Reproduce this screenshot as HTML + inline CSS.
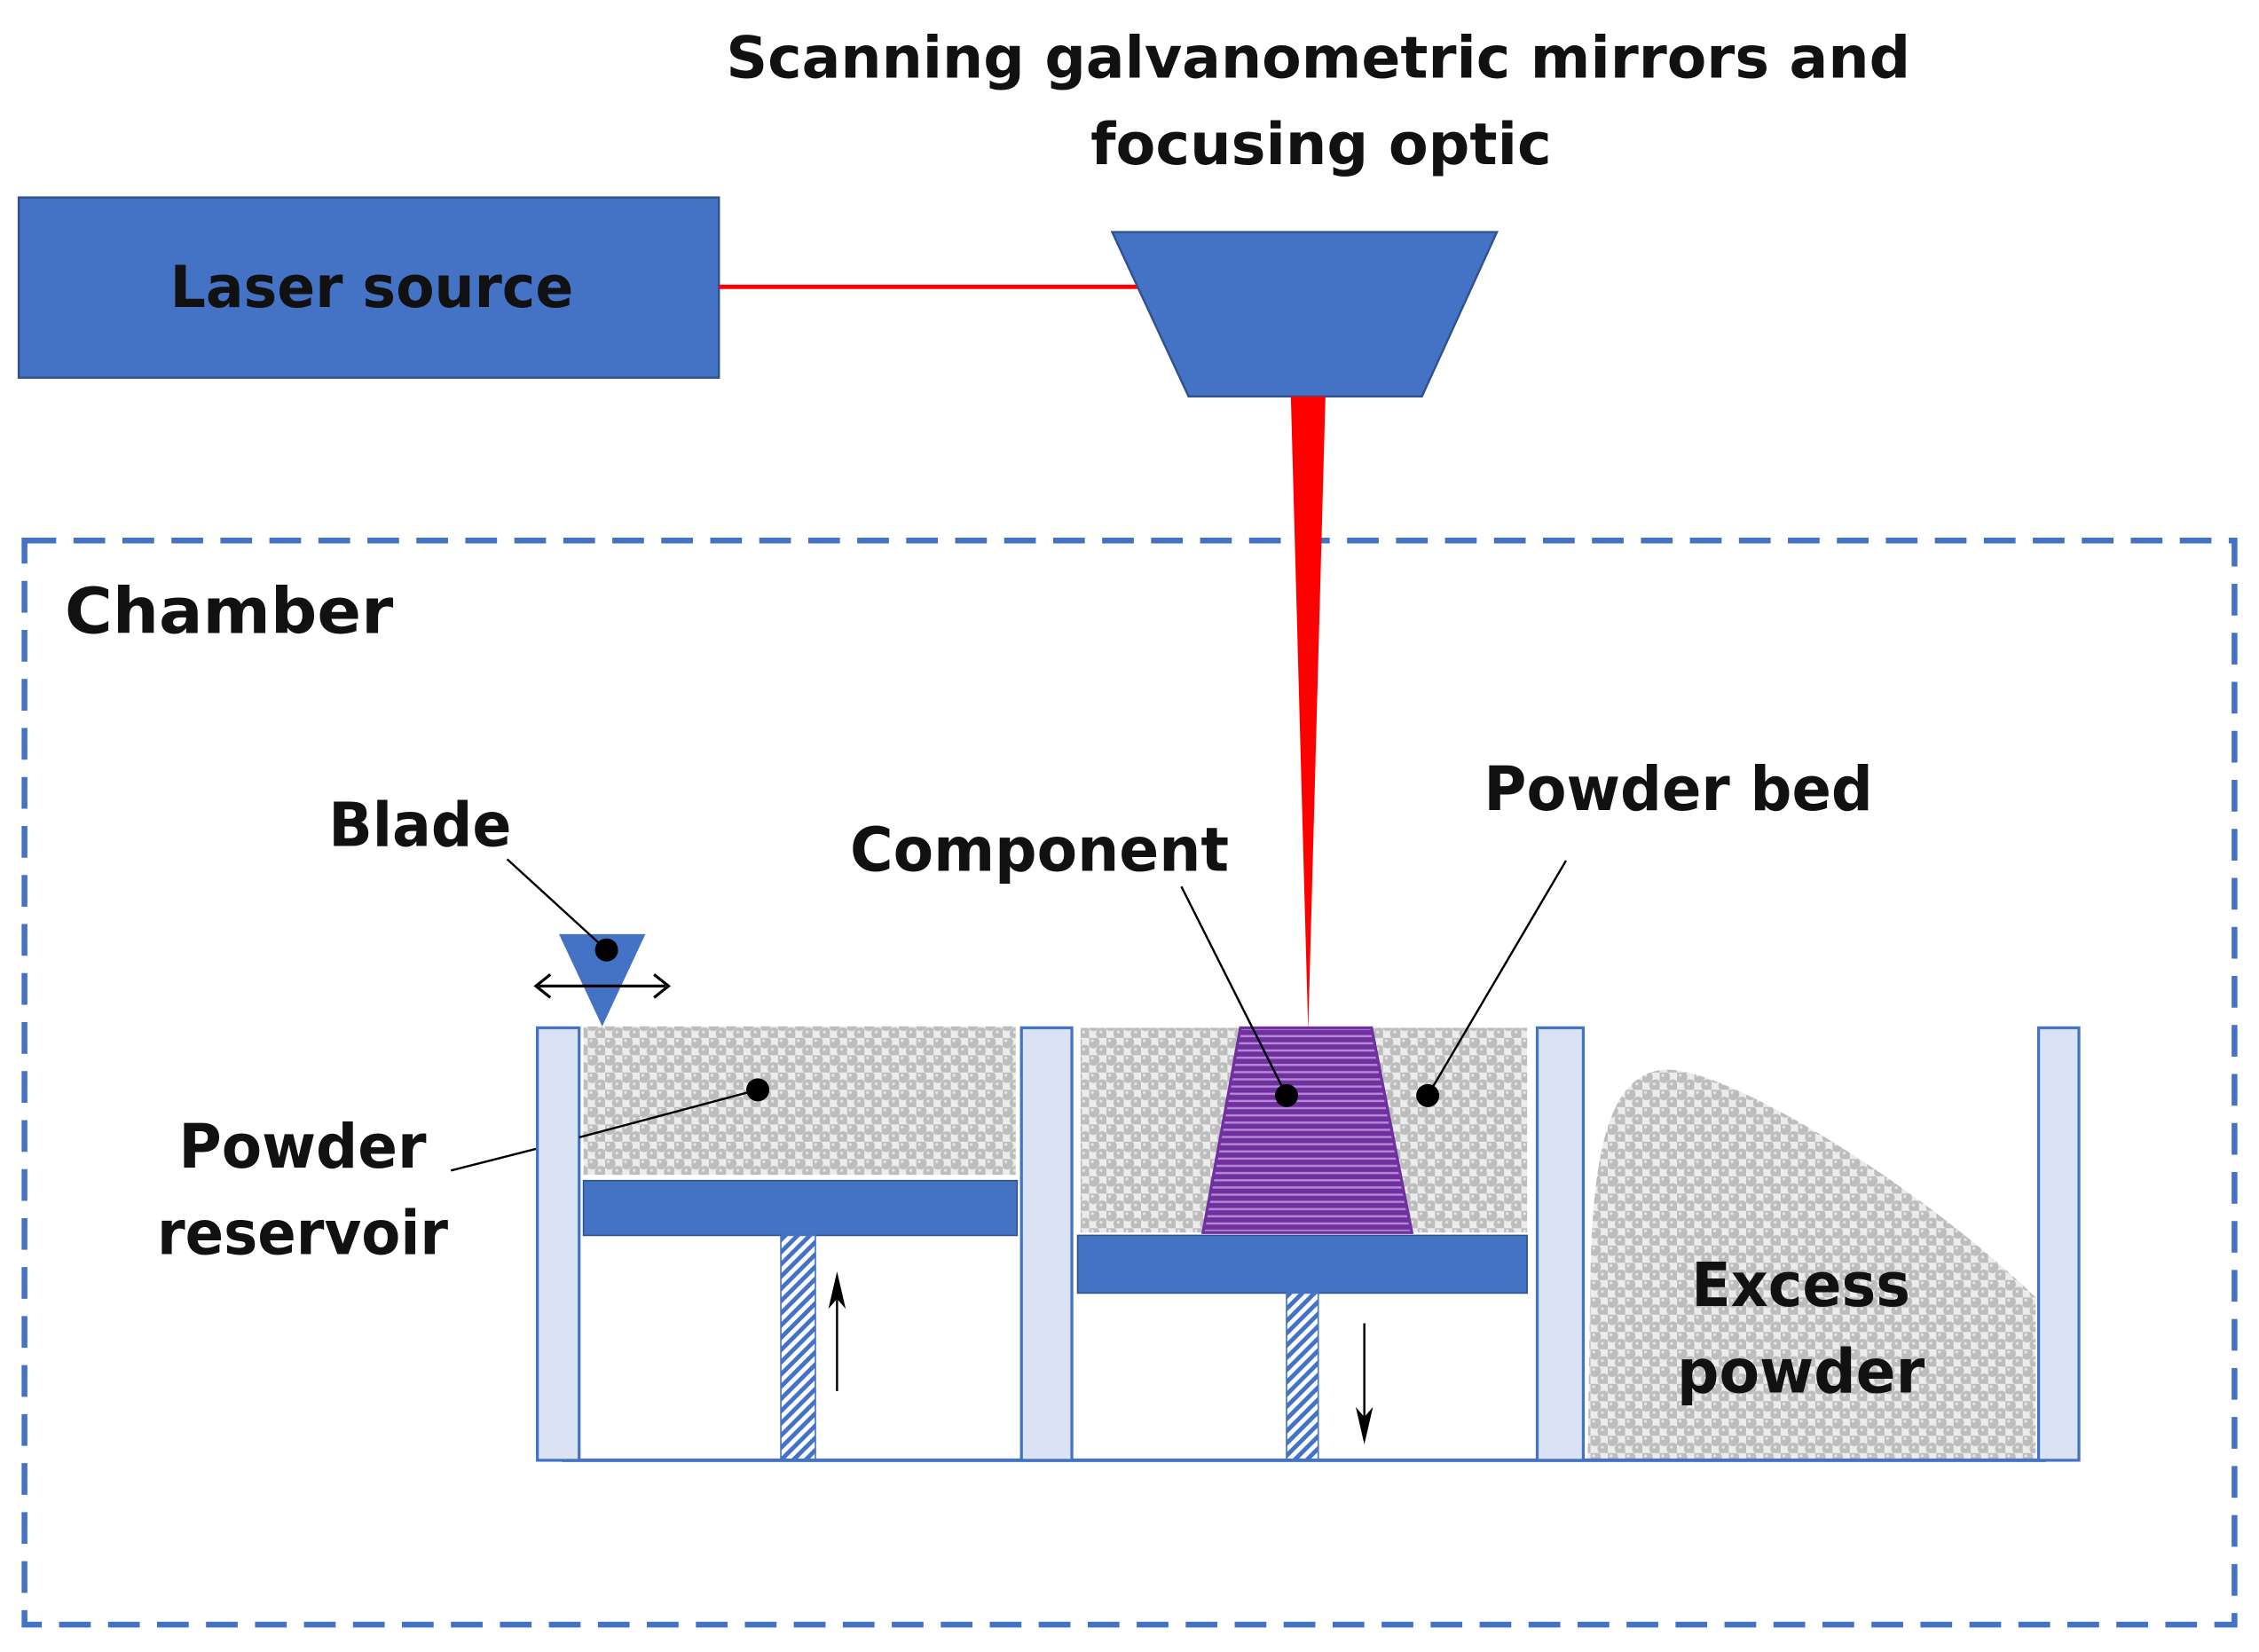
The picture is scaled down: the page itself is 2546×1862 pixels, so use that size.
<!DOCTYPE html>
<html><head><meta charset="utf-8"><style>
html,body{margin:0;padding:0;background:#fff}
svg{display:block}
text{font-family:"DejaVu Sans","Liberation Sans",sans-serif;font-weight:bold;fill:#111}
</style></head><body>
<svg width="2546" height="1862" viewBox="0 0 1568 1146" preserveAspectRatio="none" xmlns="http://www.w3.org/2000/svg">
<defs>
<pattern id="pw" width="12" height="12" patternUnits="userSpaceOnUse">
<rect width="12" height="12" fill="#ececec"/>
<circle cx="3" cy="3" r="4.2" fill="#bdbdbd"/>
<circle cx="9" cy="9" r="4.2" fill="#bdbdbd"/>
<circle cx="2.2" cy="1.9" r="1" fill="#e6e6e6"/>
<circle cx="8.2" cy="7.9" r="1" fill="#e6e6e6"/>
</pattern>
<pattern id="hat" width="6" height="6" patternUnits="userSpaceOnUse" patternTransform="rotate(-45)">
<rect width="6" height="6" fill="#fff"/>
<rect width="6" height="3" fill="#4472c4"/>
</pattern>
<pattern id="str" width="10" height="5" patternUnits="userSpaceOnUse">
<rect width="10" height="5" fill="#7030a0"/>
<rect y="3" width="10" height="1.5" fill="#b48ad6"/>
</pattern>
</defs>

<text x="915" y="54" font-size="40" text-anchor="middle" textLength="822" lengthAdjust="spacingAndGlyphs">Scanning galvanometric mirrors and</text>
<text x="917" y="114" font-size="40" text-anchor="middle" textLength="320" lengthAdjust="spacingAndGlyphs">focusing optic</text>

<rect x="13" y="137" width="486" height="125" fill="#4472c4" stroke="#2f528f" stroke-width="1.5"/>
<text x="258" y="213" font-size="40" text-anchor="middle" textLength="280" lengthAdjust="spacingAndGlyphs">Laser source</text>
<line x1="499" y1="199" x2="792" y2="199" stroke="#ff0000" stroke-width="3"/>
<polygon points="772,161 1039,161 987,275 825,275" fill="#4472c4" stroke="#2f528f" stroke-width="1.5"/>

<rect x="17" y="375" width="1534" height="752" fill="none" stroke="#4472c4" stroke-width="4" stroke-dasharray="22,12"/>
<polygon points="896,275 920,275 908,715" fill="#ff0000"/>
<text x="45" y="439" font-size="44" textLength="228" lengthAdjust="spacingAndGlyphs">Chamber</text>

<!-- reservoir -->
<rect x="405" y="712" width="300" height="103" fill="url(#pw)"/>
<rect x="405" y="819" width="301" height="38" fill="#4472c4" stroke="#2f528f" stroke-width="1"/>
<rect x="542" y="857" width="24" height="156" fill="url(#hat)" stroke="#4472c4" stroke-width="1"/>
<line x1="581" y1="965" x2="581" y2="890" stroke="#000" stroke-width="1.5"/>
<polygon points="581,882 575,908 581,901 587,908" fill="#000"/>

<!-- bed -->
<rect x="750" y="713" width="310" height="142" fill="url(#pw)"/>
<polygon points="861,713 952,713 980,855 835,855" fill="url(#str)" stroke="#7030a0" stroke-width="2"/>
<rect x="748" y="857" width="312" height="40" fill="#4472c4" stroke="#2f528f" stroke-width="1"/>
<rect x="893" y="897" width="22" height="116" fill="url(#hat)" stroke="#4472c4" stroke-width="1"/>
<line x1="947" y1="918" x2="947" y2="995" stroke="#000" stroke-width="1.5"/>
<polygon points="947,1002 941,976 947,983 953,976" fill="#000"/>

<!-- excess -->
<path d="M1102,1013 L1104,880 C1106,790 1120,742 1158,742 C1200,742 1330,820 1413,900 L1413,1013 Z" fill="url(#pw)"/>
<text x="1250" y="906" font-size="42" text-anchor="middle" textLength="152" lengthAdjust="spacingAndGlyphs">Excess</text>
<text x="1250" y="966" font-size="42" text-anchor="middle" textLength="172" lengthAdjust="spacingAndGlyphs">powder</text>

<!-- walls -->
<line x1="390" y1="1013" x2="1420" y2="1013" stroke="#4472c4" stroke-width="2.5"/>
<rect x="373" y="713" width="29" height="300" fill="#dae3f3" stroke="#4472c4" stroke-width="2"/>
<rect x="709" y="713" width="35" height="300" fill="#dae3f3" stroke="#4472c4" stroke-width="2"/>
<rect x="1067" y="713" width="32" height="300" fill="#dae3f3" stroke="#4472c4" stroke-width="2"/>
<rect x="1415" y="713" width="28" height="300" fill="#dae3f3" stroke="#4472c4" stroke-width="2"/>

<!-- blade -->
<polygon points="388,648 448,648 418,712" fill="#4472c4"/>
<line x1="374" y1="684" x2="462" y2="684" stroke="#000" stroke-width="2"/>
<polyline points="382,676 372,684 382,692" fill="none" stroke="#000" stroke-width="2"/>
<polyline points="454,676 464,684 454,692" fill="none" stroke="#000" stroke-width="2"/>

<!-- labels & leaders -->
<line x1="352" y1="596" x2="421" y2="659" stroke="#000" stroke-width="1.5"/>
<circle cx="421" cy="659" r="8" fill="#000"/>
<text x="228" y="587" font-size="42" textLength="127" lengthAdjust="spacingAndGlyphs">Blade</text>

<line x1="313" y1="812" x2="372" y2="797" stroke="#000" stroke-width="1.5"/>
<line x1="402" y1="789" x2="526" y2="756" stroke="#000" stroke-width="1.5"/>
<circle cx="526" cy="756" r="8" fill="#000"/>
<text x="210" y="810" font-size="42" text-anchor="middle" textLength="172" lengthAdjust="spacingAndGlyphs">Powder</text>
<text x="210" y="870" font-size="42" text-anchor="middle" textLength="202" lengthAdjust="spacingAndGlyphs">reservoir</text>

<line x1="820" y1="615" x2="893" y2="760" stroke="#000" stroke-width="1.5"/>
<circle cx="893" cy="760" r="8" fill="#000"/>
<text x="590" y="604" font-size="42" textLength="263" lengthAdjust="spacingAndGlyphs">Component</text>

<line x1="1087" y1="597" x2="991" y2="760" stroke="#000" stroke-width="1.5"/>
<circle cx="991" cy="760" r="8" fill="#000"/>
<text x="1030" y="562" font-size="42" textLength="270" lengthAdjust="spacingAndGlyphs">Powder bed</text>
</svg>
</body></html>
